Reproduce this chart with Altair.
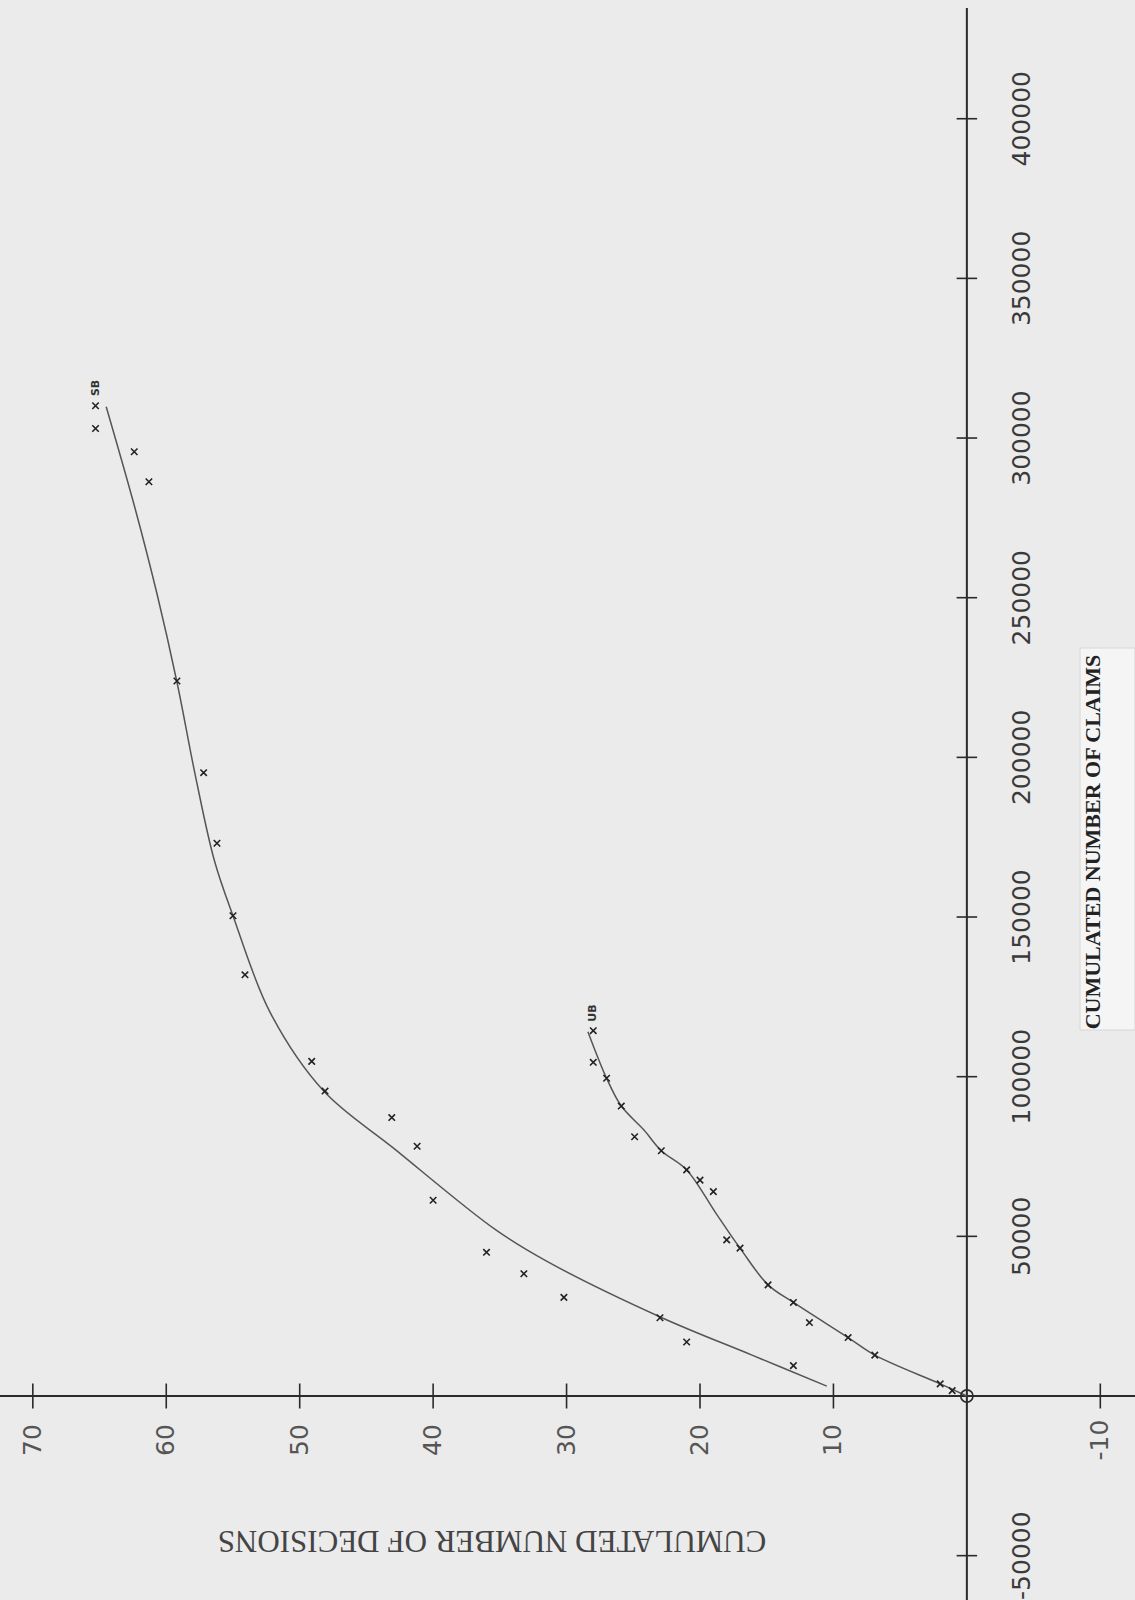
import altair as alt
import pandas as pd

# ---------------- data ----------------
# SB series (observed points)
sb_claims = [310100, 303000, 295700, 286300, 223900, 195200, 173100, 150400,
             131900, 104800, 95500, 87200, 78200, 61300, 45000, 38300, 30900,
             24500, 16900, 9500]
sb_decisions = [65.3, 65.3, 62.4, 61.3, 59.2, 57.2, 56.2, 55.0, 54.1, 49.1,
                48.1, 43.1, 41.2, 40.0, 36.0, 33.2, 30.2, 23.0, 21.0, 13.0]

# UB series (observed points)
ub_claims = [114400, 104500, 99500, 90800, 81200, 76800, 70800, 67600, 64000,
             48900, 46300, 34800, 29300, 23000, 18300, 12800, 3800, 1700]
ub_decisions = [28.0, 28.0, 27.0, 25.9, 24.9, 22.9, 21.0, 20.0, 19.0, 18.0,
                17.0, 14.9, 13.0, 11.8, 8.9, 6.9, 2.0, 1.1]

# fitted curves
sb_fit_claims = [3100, 12800, 24600, 42000, 52000, 77400, 95500, 120000,
                 150400, 167800, 193900, 223600, 251300, 277400, 309800]
sb_fit_decisions = [10.5, 16.1, 22.9, 31.4, 35.3, 42.9, 48.2, 52.2, 55.0,
                    56.4, 57.8, 59.2, 60.7, 62.3, 64.5]

ub_fit_claims = [0, 3800, 12800, 18300, 29300, 34800, 46300, 57200, 70800,
                 76800, 83300, 90800, 99500, 114100]
ub_fit_decisions = [0.0, 2.0, 6.9, 8.9, 13.0, 14.9, 17.0, 18.8, 21.0, 22.9,
                    24.2, 25.9, 27.0, 28.4]

# curve end labels
curve_labels = ["SB", "UB"]
curve_label_claims = [315700, 119900]
curve_label_decisions = [65.3, 28.0]

# axis ticks and labels
decision_ticks = [70, 60, 50, 40, 30, 20, 10, -10]
decision_tick_labels = ["70", "60", "50", "40", "30", "20", "10", "-10"]
claim_ticks = [-50000, 50000, 100000, 150000, 200000, 250000, 300000, 350000, 400000]
claim_tick_labels = ["-50000", "50000", "100000", "150000", "200000", "250000",
                     "300000", "350000", "400000"]

title_claims = "CUMULATED NUMBER OF CLAIMS"
title_decisions = "CUMULATED NUMBER OF DECISIONS"

# ---------------- tables ----------------
points = pd.DataFrame({
    "c": sb_claims + ub_claims,
    "d": sb_decisions + ub_decisions,
    "series": ["SB"] * len(sb_claims) + ["UB"] * len(ub_claims),
})
fits = pd.DataFrame({
    "c": sb_fit_claims + ub_fit_claims,
    "d": sb_fit_decisions + ub_fit_decisions,
    "series": ["SB"] * len(sb_fit_claims) + ["UB"] * len(ub_fit_claims),
})
labels = pd.DataFrame({"c": curve_label_claims, "d": curve_label_decisions,
                       "t": curve_labels})
dticks = pd.DataFrame({"d": decision_ticks, "c": [0] * len(decision_ticks),
                       "t": decision_tick_labels})
cticks = pd.DataFrame({"c": claim_ticks, "d": [0] * len(claim_ticks),
                       "t": claim_tick_labels})
origin = pd.DataFrame({"c": [0], "d": [0]})
hline = pd.DataFrame({"c": [0], "d": [-13.0], "d2": [73.0]})
vline = pd.DataFrame({"d": [0], "c": [-70000], "c2": [434700]})
one = pd.DataFrame({"k": [0]})

# ---------------- scales (page is rotated: decisions run right-to-left) ----------------
xs = alt.Scale(domain=[72.46, -12.60], nice=False, zero=False)
ys = alt.Scale(domain=[-63885, 437179], nice=False, zero=False)
X = lambda f="d": alt.X(f"{f}:Q", scale=xs, axis=None)
Y = lambda f="c": alt.Y(f"{f}:Q", scale=ys, axis=None)

ink = "#2a2a2a"

box = alt.Chart(one).mark_rect(fill="#f5f5f5", stroke="#d6d6d6", strokeWidth=1).encode(
    x=alt.value(1080), x2=alt.value(1135), y=alt.value(648), y2=alt.value(1030))

h_axis = alt.Chart(hline).mark_rule(color=ink, strokeWidth=2).encode(
    x=X(), x2="d2:Q", y=Y())
v_axis = alt.Chart(vline).mark_rule(color=ink, strokeWidth=2).encode(
    x=X(), y=Y(), y2="c2:Q")

d_tickmarks = alt.Chart(dticks).mark_point(
    shape="M0,-1L0,1", size=625, filled=False, stroke=ink, strokeWidth=1.6, opacity=1
).encode(x=X(), y=Y())
c_tickmarks = alt.Chart(cticks).mark_point(
    shape="M-1,0L1,0", size=420, filled=False, stroke=ink, strokeWidth=1.6, opacity=1
).encode(x=X(), y=Y())

d_ticklabels = alt.Chart(dticks).mark_text(
    angle=270, dx=-44, align="center", baseline="middle", font="DejaVu Sans",
    fontSize=25, color="#555555"
).encode(x=X(), y=Y(), text="t:N")
c_ticklabels = alt.Chart(cticks).mark_text(
    angle=270, dy=55, align="center", baseline="middle", font="DejaVu Sans",
    fontSize=25, color="#3a3a3a"
).encode(x=X(), y=Y(), text="t:N")

origin_mark = alt.Chart(origin).mark_point(
    shape="circle", size=150, filled=False, stroke=ink, strokeWidth=1.6, opacity=1
).encode(x=X(), y=Y())

fit_lines = alt.Chart(fits).mark_line(
    color="#555555", strokeWidth=1.5, interpolate="catmull-rom"
).encode(x=X(), y=Y(), detail="series:N", order=alt.Order("c:Q"))

markers = alt.Chart(points).mark_point(
    shape="M-1,-1L1,1M-1,1L1,-1", size=42, filled=False, stroke="#222222",
    strokeWidth=1.6, opacity=1
).encode(x=X(), y=Y())

end_labels = alt.Chart(labels).mark_text(
    angle=270, align="center", baseline="middle", font="DejaVu Sans",
    fontSize=11, fontWeight="bold", color="#333333"
).encode(x=X(), y=Y(), text="t:N")

t_claims = alt.Chart(one).mark_text(
    angle=270, align="center", baseline="middle", font="Liberation Serif",
    fontSize=22, fontWeight="bold", color="#222222", text=title_claims
).encode(x=alt.value(1093), y=alt.value(842))

t_decisions = alt.Chart(one).mark_text(
    angle=180, align="center", baseline="middle", font="Liberation Serif",
    fontSize=31, color="#444444", text=title_decisions
).encode(x=alt.value(492), y=alt.value(1540))

chart = alt.layer(
    box, h_axis, v_axis, d_tickmarks, c_tickmarks, d_ticklabels, c_ticklabels,
    fit_lines, markers, origin_mark, end_labels, t_claims, t_decisions
).properties(
    width=1135, height=1600, padding=0,
    autosize=alt.AutoSizeParams(type="none"),
    background="#ebebeb",
).configure_view(stroke=None)

chart.save("out.html", embed_options={"renderer": "svg", "actions": False})
